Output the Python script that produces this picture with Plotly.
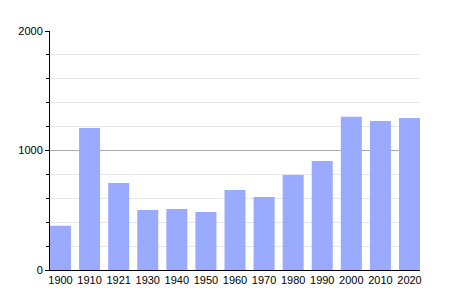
import plotly.graph_objects as go

years = ["1900", "1910", "1921", "1930", "1940", "1950", "1960", "1970", "1980", "1990", "2000", "2010", "2020"]
population = [371, 1188, 728, 502, 510, 485, 670, 611, 795, 912, 1283, 1247, 1272]

fig = go.Figure(go.Bar(
    x=list(range(len(years))), y=population,
    marker=dict(color="#99AAFF", line=dict(width=0)),
    width=0.722,
))

fig.update_layout(
    width=450, height=300,
    margin=dict(l=50, r=30, t=31, b=30),
    paper_bgcolor="white", plot_bgcolor="white",
    showlegend=False,
    font=dict(family="Liberation Sans, Arial, sans-serif", size=11, color="#000"),
    xaxis=dict(
        range=[-0.361, len(years) - 1 + 0.361],
        tickmode="array", tickvals=list(range(len(years))), ticktext=years,
        showgrid=False, showline=True, linecolor="black", linewidth=1,
        ticks="", zeroline=False, fixedrange=True,
    ),
    yaxis=dict(
        range=[0, 2000], tickmode="array", tickvals=[0, 1000, 2000],
        showgrid=True, gridcolor="#aaaaaa", gridwidth=1,
        showline=True, linecolor="black", linewidth=1,
        ticks="outside", ticklen=4, tickcolor="black",
        zeroline=False,
        minor=dict(dtick=200, showgrid=True, gridcolor="#e6e6e6", ticks="outside", ticklen=3, tickcolor="black"),
    ),
)

fig.write_html("out.html")
